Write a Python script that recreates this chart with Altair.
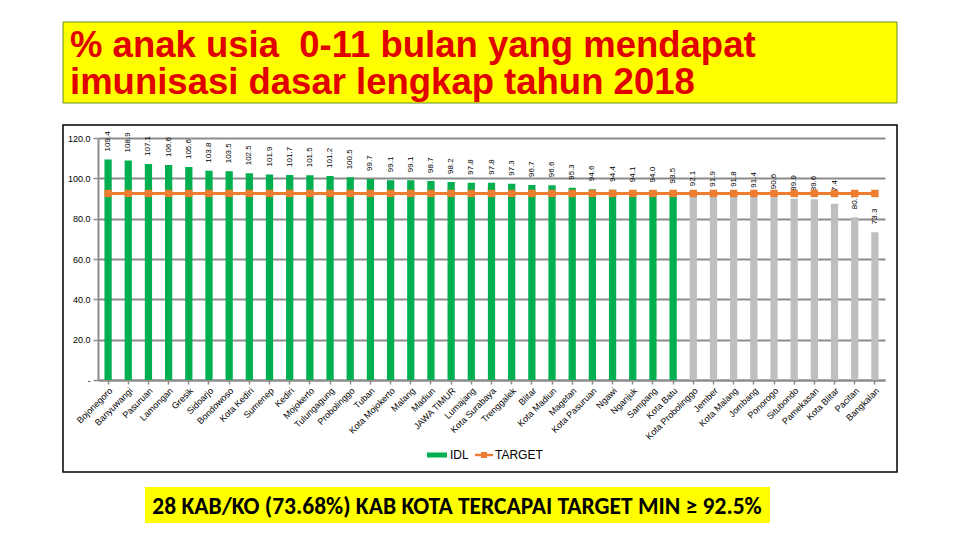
import altair as alt
import pandas as pd

categories = [
    "Bojonegoro", "Banyuwangi", "Pasuruan", "Lamongan", "Gresik", "Sidoarjo",
    "Bondowoso", "Kota Kediri", "Sumenep", "Kediri", "Mojokerto", "Tulungagung",
    "Probolinggo", "Tuban", "Kota Mojokerto", "Malang", "Madiun", "JAWA TIMUR",
    "Lumajang", "Kota Surabaya", "Trenggalek", "Blitar", "Kota Madiun", "Magetan",
    "Kota Pasuruan", "Ngawi", "Nganjuk", "Sampang", "Kota Batu", "Kota Probolinggo",
    "Jember", "Kota Malang", "Jombang", "Ponorogo", "Situbondo", "Pamekasan",
    "Kota Blitar", "Pacitan", "Bangkalan",
]
idl_values = [
    109.4, 108.9, 107.1, 106.6, 105.6, 103.8,
    103.5, 102.5, 101.9, 101.7, 101.5, 101.2,
    100.5, 99.7, 99.1, 99.1, 98.7, 98.2,
    97.8, 97.8, 97.3, 96.7, 96.6, 95.3,
    94.6, 94.4, 94.1, 94.0, 93.5, 92.1,
    91.9, 91.8, 91.4, 90.6, 89.9, 89.6,
    87.4, 80.7, 73.3,
]
target_value = 92.5
y_ticks = [0, 20, 40, 60, 80, 100, 120]

# non-breaking space keeps the double space of the original title
title_lines = ["% anak usia\u00a0 0-11 bulan yang mendapat", "imunisasi dasar lengkap tahun 2018"]
footer_text = "28 KAB/KO (73.68%) KAB KOTA TERCAPAI TARGET MIN \u2265 92.5%"

df = pd.DataFrame({"kab": categories, "idl": idl_values})
df["target"] = target_value
df["met"] = df["idl"] >= target_value

deco = pd.DataFrame({"k": [0]})

W, H = 787, 242
GREEN = "#00B050"
GREY = "#BFBFBF"
ORANGE = "#ED7D31"
AXGREY = "#8C8C8C"

x_scale = alt.Scale(paddingInner=0.64, paddingOuter=0.32)
y_scale = alt.Scale(domain=[0, 120], nice=False)

x_enc = alt.X(
    "kab:N", sort=categories, scale=x_scale,
    axis=alt.Axis(
        title=None, labelAngle=-45, labelFontSize=9, labelFont="Liberation Sans",
        labelColor="#000000", domainColor=AXGREY, domainWidth=2,
        tickColor=AXGREY, tickSize=4, tickWidth=1.5, labelPadding=2,
    ),
)
y_enc = alt.Y(
    "idl:Q", scale=y_scale,
    axis=alt.Axis(
        title=None, values=y_ticks,
        labelExpr="datum.value == 0 ? '-' : format(datum.value, '.1f')",
        labelFontSize=9, labelFont="Liberation Sans", labelColor="#000000",
        domainColor=AXGREY, domainWidth=2, tickColor=AXGREY, tickSize=5, tickWidth=1.5,
        labelPadding=3, grid=True, gridColor=AXGREY, gridWidth=2,
    ),
)

bars = alt.Chart(df).mark_bar().encode(
    x=x_enc,
    y=y_enc,
    color=alt.condition("datum.met", alt.value(GREEN), alt.value(GREY)),
)

labels = alt.Chart(df).mark_text(
    angle=270, align="left", baseline="middle", dx=8, fontSize=8,
    font="Liberation Sans", color="#000000",
).encode(
    x=alt.X("kab:N", sort=categories),
    y=alt.Y("idl:Q"),
    text=alt.Text("idl:Q", format=".1f"),
)

tline = alt.Chart(df).mark_line(color=ORANGE, strokeWidth=3).encode(
    x=alt.X("kab:N", sort=categories),
    y=alt.Y("target:Q"),
)
tpts = alt.Chart(df).mark_square(size=55, color=ORANGE, opacity=1).encode(
    x=alt.X("kab:N", sort=categories),
    y=alt.Y("target:Q"),
)

title_box = alt.Chart(deco).mark_rect(fill="#FFFF00", stroke="#6B8E23", strokeWidth=1).encode(
    x=alt.value(-35), x2=alt.value(799), y=alt.value(-116), y2=alt.value(-35)
)
border = alt.Chart(deco).mark_rect(fillOpacity=0, stroke="#000000", strokeWidth=1.5).encode(
    x=alt.value(-35), x2=alt.value(799), y=alt.value(-13), y2=alt.value(334)
)
title_txt = alt.Chart(deco).mark_text(
    align="left", baseline="alphabetic", fontSize=36.5, fontWeight="bold",
    font="Liberation Sans", color="#E00000", lineHeight=37,
).encode(x=alt.value(-28), y=alt.value(-81.5), text=alt.value(title_lines))

leg_g = alt.Chart(deco).mark_rule(color=GREEN, strokeWidth=5).encode(
    x=alt.value(329), x2=alt.value(349), y=alt.value(317)
)
leg_gt = alt.Chart(deco).mark_text(
    align="left", baseline="middle", fontSize=12, font="Liberation Sans", color="#000000"
).encode(x=alt.value(352), y=alt.value(317), text=alt.value("IDL"))
leg_o = alt.Chart(deco).mark_rule(color=ORANGE, strokeWidth=2.5).encode(
    x=alt.value(377), x2=alt.value(395), y=alt.value(317)
)
leg_os = alt.Chart(deco).mark_square(size=36, color=ORANGE, opacity=1).encode(
    x=alt.value(386), y=alt.value(317)
)
leg_ot = alt.Chart(deco).mark_text(
    align="left", baseline="middle", fontSize=12, font="Liberation Sans", color="#000000"
).encode(x=alt.value(397), y=alt.value(317), text=alt.value("TARGET"))

foot_box = alt.Chart(deco).mark_rect(fill="#FFFF00").encode(
    x=alt.value(47), x2=alt.value(672), y=alt.value(349), y2=alt.value(385)
)
foot_t = alt.Chart(deco).mark_text(
    align="center", baseline="alphabetic", fontSize=23.5, fontWeight="bold",
    font="Liberation Sans Narrow, Carlito, Liberation Sans", color="#000000",
).encode(x=alt.value(359), y=alt.value(376), text=alt.value(footer_text))

chart = alt.layer(
    title_box, border, title_txt, bars, labels, tline, tpts,
    leg_g, leg_gt, leg_o, leg_os, leg_ot, foot_box, foot_t,
).properties(
    width=W, height=H,
    padding={"left": 90, "top": 130, "right": 67, "bottom": 150},
    autosize=alt.AutoSizeParams(type="none"),
    background="#FFFFFF",
).configure_view(stroke=None)

chart.save("out.html", embed_options={"renderer": "svg", "actions": False})
